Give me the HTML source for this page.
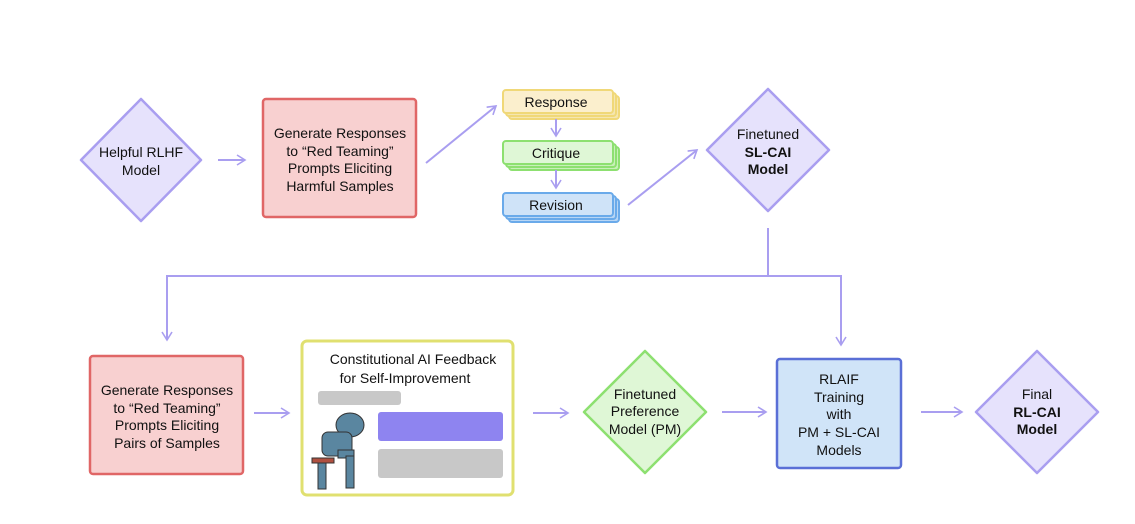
<!DOCTYPE html>
<html><head><style>
body{margin:0;background:#fff;width:1135px;height:519px;overflow:hidden;font-family:"Liberation Sans",sans-serif;}
svg text{font-family:"Liberation Sans",sans-serif;font-size:14px;fill:#111;text-anchor:middle;}
</style></head><body>
<svg width="1135" height="519" viewBox="0 0 1135 519" xmlns="http://www.w3.org/2000/svg">
<defs>
<marker id="a" markerWidth="12" markerHeight="12" refX="9" refY="6" orient="auto" markerUnits="userSpaceOnUse">
<path d="M1,1 L9,6 L1,11" fill="none" stroke="#a99ef0" stroke-width="1.6"/></marker>
</defs>
<g fill="#e6e2fc" stroke="#a99ef0" stroke-width="2.5" stroke-linejoin="round">
<path d="M141,99 L201,160 L141,221 L81,160 Z"/>
<path d="M768,89 L829,150 L768,211 L707,150 Z"/>
<path d="M1037,351 L1098,412 L1037,473 L976,412 Z"/>
</g>
<path d="M645,351 L706,412 L645,473 L584,412 Z" fill="#dff7d6" stroke="#8de070" stroke-width="2.5" stroke-linejoin="round"/>
<rect x="263" y="99" width="153" height="118" rx="3" fill="#f8d0d0" stroke="#e06666" stroke-width="2.5"/>
<rect x="90" y="356" width="153" height="118" rx="3" fill="#f8d0d0" stroke="#e06666" stroke-width="2.5"/>
<rect x="777" y="359" width="124" height="109" rx="3" fill="#d0e4f8" stroke="#5a6fd6" stroke-width="2.5"/>
<rect x="302" y="341" width="211" height="154" rx="5" fill="#fff" stroke="#e0e070" stroke-width="3"/>
<!-- stacked boxes -->
<g stroke-width="2">
<rect x="509" y="96" width="110" height="23" rx="3" fill="#f5e6b0" stroke="#f0d878"/>
<rect x="506" y="93" width="110" height="23" rx="3" fill="#f5e6b0" stroke="#f0d878"/>
<rect x="503" y="90" width="110" height="23" rx="3" fill="#fbefcd" stroke="#f0d878"/>
<rect x="509" y="147" width="110" height="23" rx="3" fill="#c8f0b8" stroke="#8de070"/>
<rect x="506" y="144" width="110" height="23" rx="3" fill="#c8f0b8" stroke="#8de070"/>
<rect x="503" y="141" width="110" height="23" rx="3" fill="#dff7d6" stroke="#8de070"/>
<rect x="509" y="199" width="110" height="23" rx="3" fill="#b8d6f5" stroke="#6aaaea"/>
<rect x="506" y="196" width="110" height="23" rx="3" fill="#b8d6f5" stroke="#6aaaea"/>
<rect x="503" y="193" width="110" height="23" rx="3" fill="#cfe3f8" stroke="#6aaaea"/>
</g>
<text x="556" y="107">Response</text>
<text x="556" y="158">Critique</text>
<text x="556" y="210">Revision</text>
<g stroke="#a99ef0" stroke-width="2" fill="none" marker-end="url(#a)">
<line x1="218" y1="160" x2="245" y2="160"/>
<line x1="426" y1="163" x2="496" y2="106"/>
<line x1="556" y1="119" x2="556" y2="136"/>
<line x1="556" y1="170" x2="556" y2="188"/>
<line x1="628" y1="205" x2="697" y2="150"/>
<polyline points="768,228 768,276 167,276 167,340"/>
<polyline points="768,276 841,276 841,345"/>
<line x1="254" y1="413" x2="289" y2="413"/>
<line x1="533" y1="413" x2="568" y2="413"/>
<line x1="722" y1="412" x2="766" y2="412"/>
<line x1="921" y1="412" x2="962" y2="412"/>
</g>
<text x="141" y="157">Helpful RLHF</text><text x="141" y="175">Model</text>
<text x="340" y="138">Generate Responses</text><text x="340" y="156">to “Red Teaming”</text><text x="340" y="173">Prompts Eliciting</text><text x="340" y="191">Harmful Samples</text>
<text x="768" y="139">Finetuned</text><text x="768" y="157" font-weight="bold">SL-CAI</text><text x="768" y="174" font-weight="bold">Model</text>
<text x="167" y="395">Generate Responses</text><text x="167" y="413">to “Red Teaming”</text><text x="167" y="430">Prompts Eliciting</text><text x="167" y="448">Pairs of Samples</text>
<text x="413" y="364">Constitutional AI Feedback</text><text x="405" y="383">for Self-Improvement</text>
<text x="645" y="399">Finetuned</text><text x="645" y="416">Preference</text><text x="645" y="434">Model (PM)</text>
<text x="839" y="384">RLAIF</text><text x="839" y="402">Training</text><text x="839" y="419">with</text><text x="839" y="437">PM + SL-CAI</text><text x="839" y="455">Models</text>
<text x="1037" y="399">Final</text><text x="1037" y="417" font-weight="bold">RL-CAI</text><text x="1037" y="434" font-weight="bold">Model</text>
<!-- chat bubbles -->
<rect x="318" y="391" width="83" height="14" rx="3" fill="#c8c8c8"/>
<rect x="378" y="412" width="125" height="29" rx="3" fill="#8e84f0"/>
<rect x="378" y="449" width="125" height="29" rx="3" fill="#c8c8c8"/>
<!-- robot approximation -->
<g fill="#5a86a0" stroke="#333" stroke-width="1">
<ellipse cx="350" cy="425" rx="14" ry="12"/>
<rect x="322" y="432" width="30" height="24" rx="6"/>
<rect x="312" y="458" width="22" height="5" fill="#b05040"/>
<rect x="318" y="463" width="8" height="26"/>
<rect x="338" y="450" width="16" height="8"/>
<rect x="346" y="456" width="8" height="32"/>
</g>
</svg>
</body></html>
